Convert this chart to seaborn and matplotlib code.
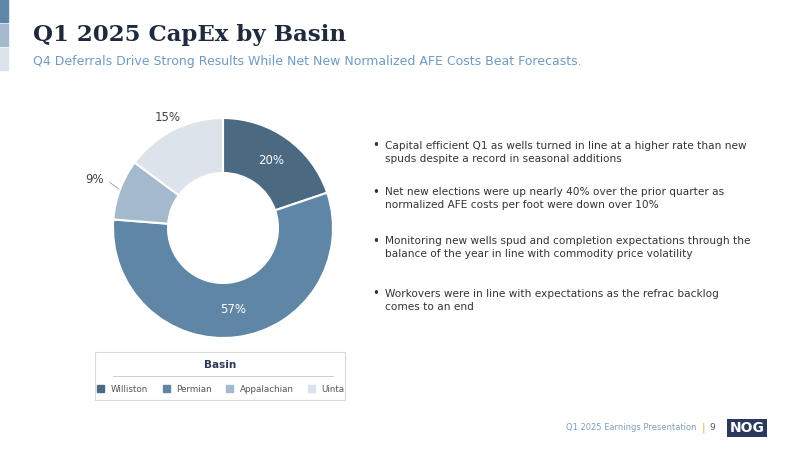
import numpy as np
import seaborn as sns
import matplotlib.pyplot as plt
from matplotlib.patches import Rectangle, Patch
from matplotlib.lines import Line2D

basins = ["Williston", "Permian", "Appalachian", "Uinta"]
shares = [20, 57, 9, 15]
colors = ["#4b6a82", "#5f86a5", "#a4bacc", "#dce3eb"]
bullets = [
    "Capital efficient Q1 as wells turned in line at a higher rate than new\nspuds despite a record in seasonal additions",
    "Net new elections were up nearly 40% over the prior quarter as\nnormalized AFE costs per foot were down over 10%",
    "Monitoring new wells spud and completion expectations through the\nbalance of the year in line with commodity price volatility",
    "Workovers were in line with expectations as the refrac backlog\ncomes to an end",
]

sns.set_theme(style="white")
plt.rcParams['font.family'] = ['DejaVu Sans']
W, H = 800, 450
fig = plt.figure(figsize=(8, 4.5), dpi=100)

def fx(x): return x / W
def fy(y): return 1 - y / H

# left accent bars
for i, c in enumerate(["#5f86a5", "#a4bacc", "#dce3eb"]):
    fig.patches.append(Rectangle((0, fy(22 + 24 * i)), fx(8), 22 / H, transform=fig.transFigure,
                                 color=c))

fig.text(fx(33), fy(35), "Q1 2025 CapEx by Basin", fontsize=16.5, fontweight='bold',
         family='DejaVu Serif', color="#1f2b3d", va='center')
fig.text(fx(33), fy(62), "Q4 Deferrals Drive Strong Results While Net New Normalized AFE Costs Beat Forecasts.",
         fontsize=9, color="#6f9bc2", va='center')

# donut
cx, cy, r = 223, 228, 110
ax = fig.add_axes([fx(cx - r), fy(cy + r), 2 * r / W, 2 * r / H])
wedges, _ = ax.pie(shares, colors=colors, startangle=90, counterclock=False, radius=1,
                   wedgeprops=dict(width=0.5, edgecolor='white', linewidth=1.5))
ax.set_xlim(-1, 1); ax.set_ylim(-1, 1); ax.set_aspect('equal')
for w, s in zip(wedges, shares):
    ang = np.deg2rad((w.theta1 + w.theta2) / 2)
    if s >= 20:
        ax.text(0.75 * np.cos(ang), 0.75 * np.sin(ang), f"{s}%", ha='center', va='center',
                fontsize=8.5, color='white')
    else:
        d = 1.25 if s < 10 else 1.12
        ax.text(d * np.cos(ang), d * np.sin(ang), f"{s}%", ha='center', va='center',
                fontsize=8.5, color='#444444')
        if s < 10:
            ax.plot([1.01 * np.cos(ang), 1.1 * np.cos(ang)], [1.01 * np.sin(ang), 1.1 * np.sin(ang) + 0.03],
                    color='#999999', lw=0.6, clip_on=False)

# legend box
fig.patches.append(Rectangle((fx(95), fy(400)), 250 / W, 48 / H, transform=fig.transFigure,
                             fill=False, edgecolor='#d9d9d9', lw=0.8))
fig.text(fx(220), fy(365), "Basin", ha='center', va='center', fontsize=7.5, fontweight='bold', color='#2b3a52')
fig.lines.append(Line2D([fx(113), fx(333)], [fy(376), fy(376)], transform=fig.transFigure,
                        color='#cccccc', lw=0.7))
handles = [Patch(color=c, label=b) for c, b in zip(colors, basins)]
fig.legend(handles=handles, loc='center', bbox_to_anchor=(fx(221), fy(389)), ncol=4, frameon=False,
           fontsize=6.3, handlelength=0.8, handleheight=0.8, columnspacing=1.7, handletextpad=0.7,
           labelcolor='#555555')

# bullets
for t, y in zip(bullets, [146, 192, 241, 294]):
    fig.text(fx(372), fy(y), "•", fontsize=8.5, color='#333333', va='center')
    fig.text(fx(385), fy(y + 6.5), t, fontsize=7.6, color='#333333', va='center', linespacing=1.35)

# footer
fig.text(fx(697), fy(428), "Q1 2025 Earnings Presentation", ha='right', va='center', fontsize=6, color='#7fa0bd')
fig.text(fx(703), fy(428), "|", ha='center', va='center', fontsize=8, color='#e0b030')
fig.text(fx(712), fy(428), "9", ha='center', va='center', fontsize=6.5, color='#555555')
fig.text(fx(747), fy(428), "NOG", ha='center', va='center', fontsize=10, fontweight='bold', color='white',
         bbox=dict(boxstyle='square,pad=0.15', fc='#2b3a5c', ec='none'))

fig.savefig("out.png", dpi=100)
